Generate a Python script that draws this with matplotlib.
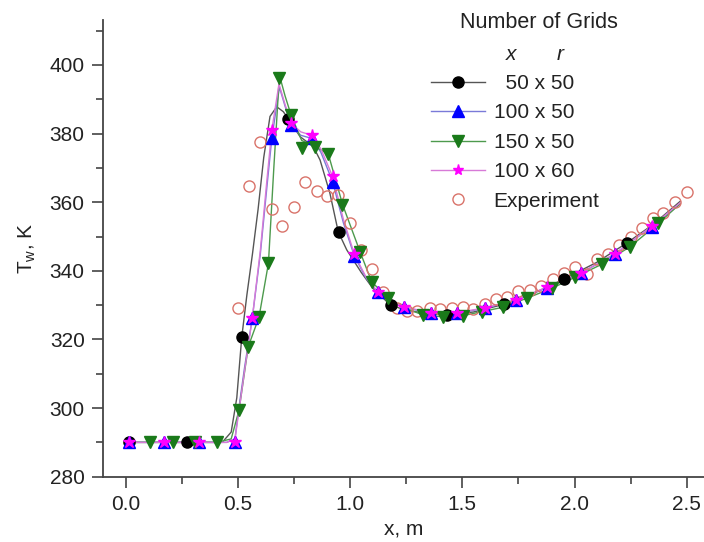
import numpy as np
import matplotlib
matplotlib.use("Agg")
import matplotlib.pyplot as plt
from matplotlib.lines import Line2D
from matplotlib.ticker import MultipleLocator

plt.rcParams['font.family'] = ['Liberation Sans', 'DejaVu Sans']
plt.rcParams['mathtext.fontset'] = 'custom'
plt.rcParams['mathtext.rm'] = 'Liberation Sans'
plt.rcParams['mathtext.it'] = 'Liberation Sans:italic'

# ---- data ----
# 50 x 50
g50_line_x = [0.015, 0.272, 0.43, 0.47, 0.495, 0.517, 0.54, 0.565, 0.59, 0.615, 0.643, 0.673, 0.702, 0.725,
              0.777, 0.836, 0.866, 0.910, 0.947, 0.985, 1.05, 1.10, 1.18, 1.25, 1.35, 1.43, 1.55, 1.69,
              1.82, 1.95, 2.10, 2.235, 2.35, 2.47]
g50_line_y = [290, 290, 290, 293, 303, 320.6, 333, 345, 358, 373, 385, 387.8, 386.4, 384.3,
              379.1, 376.2, 372.3, 362.6, 351.4, 346.1, 339.5, 335, 330, 328.5, 327.5, 327.1, 328, 330.3,
              333.5, 337.5, 342.5, 348.2, 353.5, 360.2]
g50_x = [0.015, 0.272, 0.517, 0.725, 0.950, 1.181, 1.430, 1.686, 1.953, 2.235]
g50_y = [290, 290, 320.6, 384.3, 351.4, 330.0, 327.1, 330.3, 337.5, 348.2]

# 100 x 50
g100_line_x = [0.015, 0.172, 0.328, 0.45, 0.487, 0.50, 0.53, 0.564, 0.60, 0.63, 0.651, 0.685, 0.71,
               0.737, 0.78, 0.829, 0.87, 0.922, 0.97, 1.019, 1.07, 1.123, 1.18, 1.24, 1.359, 1.475,
               1.601, 1.739, 1.876, 2.029, 2.18, 2.344, 2.47]
g100_line_y = [290, 290, 290, 290, 291, 298, 312, 326.2, 345, 365, 378.6, 393.5, 388,
               382.5, 379.5, 378.6, 374.5, 366, 354, 344.3, 338, 333.7, 331, 329.4, 327.6, 327.6,
               329.1, 331.5, 335.1, 339.3, 344.9, 352.9, 359.5]
g100_x = [0.015, 0.172, 0.328, 0.487, 0.564, 0.651, 0.737, 0.829, 0.922, 1.019, 1.123, 1.240,
          1.359, 1.475, 1.601, 1.739, 1.876, 2.029, 2.180, 2.344]
g100_y = [290, 290, 290, 290, 326.2, 378.6, 382.5, 378.6, 366, 344.3, 333.7, 329.4,
          327.6, 327.6, 329.1, 331.5, 335.1, 339.3, 344.9, 352.9]

# 150 x 50
g150_line_x = [0.015, 0.108, 0.212, 0.309, 0.405, 0.47, 0.505, 0.546, 0.594, 0.636, 0.66, 0.685, 0.71,
               0.737, 0.784, 0.844, 0.903, 0.967, 1.044, 1.096, 1.170, 1.25, 1.326, 1.415, 1.502,
               1.586, 1.683, 1.787, 1.898, 2.002, 2.121, 2.247, 2.373, 2.47]
g150_line_y = [290, 290, 290, 290, 290, 291, 299.4, 317.9, 326.5, 342.2, 370, 397, 391,
               385.4, 378, 376.2, 374, 359.2, 345.6, 336.8, 332, 329, 327.1, 326.6, 326.9,
               328.1, 329.4, 332, 334.9, 338.1, 341.9, 347, 353.8, 359.5]
g150_x = [0.108, 0.212, 0.309, 0.405, 0.505, 0.546, 0.594, 0.636, 0.685, 0.737, 0.784, 0.844,
          0.903, 0.965, 1.044, 1.096, 1.170, 1.326, 1.415, 1.502, 1.586, 1.683, 1.787, 1.898,
          2.002, 2.121, 2.247, 2.373]
g150_y = [290, 290, 290, 290, 299.4, 317.9, 326.5, 342.2, 396.1, 385.4, 375.7, 376.2,
          374.0, 359.3, 345.6, 336.8, 332.0, 327.1, 326.6, 326.9, 328.1, 329.4, 332.0, 334.9,
          338.1, 341.9, 347.0, 353.8]

# 100 x 60
g160_line_x = [0.015, 0.172, 0.328, 0.45, 0.487, 0.50, 0.53, 0.564, 0.60, 0.63, 0.651, 0.683, 0.71,
               0.737, 0.78, 0.829, 0.87, 0.922, 0.97, 1.019, 1.07, 1.123, 1.18, 1.24, 1.359, 1.475,
               1.601, 1.739, 1.876, 2.029, 2.18, 2.344, 2.47]
g160_line_y = [290, 290, 290, 290, 291, 297, 311, 326.2, 346, 367, 381, 394.5, 388.5,
               383, 380.5, 379.5, 375.5, 367.5, 355, 344.8, 338.3, 333.9, 331.2, 329.5, 327.8, 327.8,
               329.2, 331.6, 335.2, 339.4, 345.0, 353.0, 359.8]
g160_x = g100_x
g160_y = [290, 290, 290, 290, 326.2, 381, 383, 379.5, 367.5, 344.8, 333.9, 329.5,
          327.8, 327.8, 329.2, 331.6, 335.2, 339.4, 345.0, 353.0]

# Experiment
exp_x = [0.499, 0.550, 0.599, 0.651, 0.698, 0.750, 0.799, 0.851, 0.898, 0.947, 1.000, 1.048,
         1.096, 1.148, 1.208, 1.252, 1.300, 1.356, 1.401, 1.453, 1.502, 1.549, 1.601, 1.650,
         1.700, 1.750, 1.802, 1.849, 1.903, 1.953, 2.002, 2.054, 2.098, 2.151, 2.200, 2.250,
         2.299, 2.348, 2.396, 2.448, 2.500]
exp_y = [329.1, 364.8, 377.6, 357.9, 353.2, 358.5, 366.0, 363.4, 361.8, 362.1, 354.0, 346.2,
         340.4, 333.9, 329.1, 328.3, 328.3, 329.1, 328.8, 329.1, 329.5, 328.8, 330.3, 331.7,
         332.5, 334.2, 334.4, 335.6, 337.5, 339.3, 341.0, 339.0, 343.4, 344.9, 347.5, 349.8,
         352.4, 355.3, 356.9, 360.2, 363.1]

labels = ["  50 x 50", "100 x 50", "150 x 50", "100 x 60", "Experiment"]

fig = plt.figure(figsize=(7.04, 5.42), dpi=100)
ax = fig.add_axes([0.1459, 0.1205, 0.8541, 0.8426])

ms = 8
ax.plot(g50_line_x, g50_line_y, color='#555555', lw=1)
ax.plot(g100_line_x, g100_line_y, color='#7a7ad8', lw=1)
ax.plot(g150_line_x, g150_line_y, color='#4d9a4d', lw=1)
ax.plot(g160_line_x, g160_line_y, color='#d77ad7', lw=1)
ax.plot(exp_x, exp_y, 'o', ms=ms, mfc='none', mec='#d9736a', mew=1)
ax.plot(g50_x, g50_y, 'o', ms=ms, color='black', mec='black')
ax.plot(g100_x, g100_y, '^', ms=ms, color='#0000ff', mec='#0000ff')
ax.plot(g150_x, g150_y, 'v', ms=ms, color='#1a7a1a', mec='#1a7a1a')
ax.plot(g160_x, g160_y, '*', ms=ms + 1, color='#ff00ff', mec='#ff00ff')

ax.set_xlim(-0.1025, 2.577)
ax.set_ylim(280, 413.1)
ax.xaxis.set_major_locator(MultipleLocator(0.5))
ax.xaxis.set_minor_locator(MultipleLocator(0.25))
ax.yaxis.set_major_locator(MultipleLocator(20))
ax.yaxis.set_minor_locator(MultipleLocator(10))
ax.set_xticks([0, 0.5, 1.0, 1.5, 2.0, 2.5])
ax.set_xticklabels(["0.0", "0.5", "1.0", "1.5", "2.0", "2.5"])
ax.set_yticks([280, 300, 320, 340, 360, 380, 400])

for s in ['top', 'right']:
    ax.spines[s].set_visible(False)
for s in ['left', 'bottom']:
    ax.spines[s].set_color('#444444')
    ax.spines[s].set_linewidth(1.3)
ax.tick_params(which='major', direction='out', length=8, width=1.2, color='#444444',
               labelsize=15, labelcolor='#222222', pad=5)
ax.tick_params(which='minor', direction='out', length=5, width=1.2, color='#444444')

ax.set_xlabel("x, m", fontsize=15, color='#222222', labelpad=4)
ax.set_ylabel(r"T$_\mathregular{w}$, K", fontsize=15, color='#222222', labelpad=8)

handles = [
    Line2D([], [], color='#555555', lw=1, marker='o', ms=ms, mfc='black', mec='black'),
    Line2D([], [], color='#7a7ad8', lw=1, marker='^', ms=ms, mfc='#0000ff', mec='#0000ff'),
    Line2D([], [], color='#4d9a4d', lw=1, marker='v', ms=ms, mfc='#1a7a1a', mec='#1a7a1a'),
    Line2D([], [], color='#d77ad7', lw=1, marker='*', ms=ms, mfc='#ff00ff', mec='#ff00ff'),
    Line2D([], [], ls='none', marker='o', ms=ms, mfc='none', mec='#d9736a'),
]
fig.legend(handles, labels, loc='upper left', bbox_to_anchor=(431 / 704, 1 - 74 / 542),
           frameon=False, fontsize=15, handlelength=2.6, handletextpad=0.4,
           labelspacing=0.5, borderpad=0, borderaxespad=0, labelcolor='#222222')
fig.text(539 / 704, 1 - 23 / 542, "Number of Grids", fontsize=15.5, color='#222222',
         ha='center', va='center')
fig.text(511 / 704, 1 - 55 / 542, "x", fontsize=15, style='italic', color='#222222',
         ha='center', va='center')
fig.text(560 / 704, 1 - 55 / 542, "r", fontsize=15, style='italic', color='#222222',
         ha='center', va='center')

fig.savefig("out.png", dpi=100)
